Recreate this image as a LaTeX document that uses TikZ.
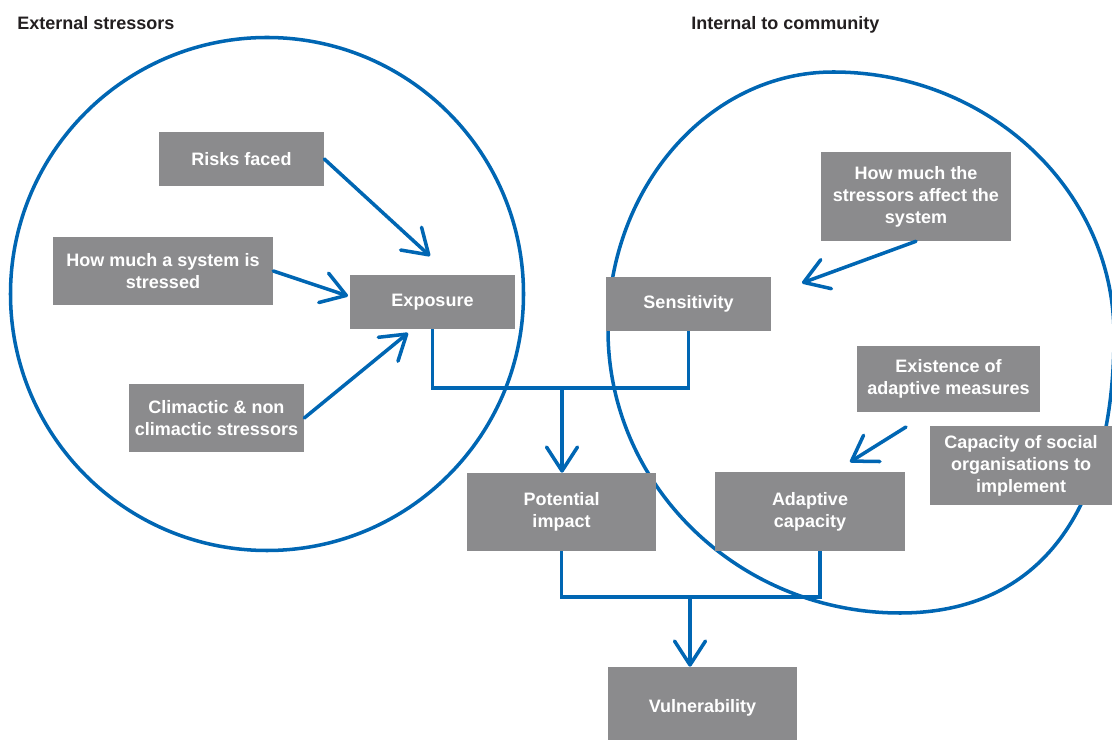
\documentclass[tikz,border=0pt]{standalone}
\usepackage{fontspec}
\setmainfont{Liberation Sans}
\usetikzlibrary{arrows.meta,calc}
\definecolor{cblue}{RGB}{0,102,179}
\definecolor{cgray}{RGB}{139,139,141}
\definecolor{ctitle}{RGB}{35,31,32}
\tikzset{
  bx/.style 2 args={fill=cgray, draw=none, inner sep=0pt, text=white,
    font=\fontsize{12.8pt}{15.6pt}\selectfont\bfseries, align=center,
    minimum width=#1*0.025cm, minimum height=#2*0.025cm},
  ttl/.style={text=ctitle, font=\fontsize{12.8pt}{15.6pt}\selectfont\bfseries, anchor=base west, inner sep=0pt},
  ring/.style={draw=cblue, line width=2.5pt},
  link/.style={draw=cblue, line width=2.5pt, line join=miter},
  arr/.style={draw=cblue, line width=2.5pt, line cap=round,
    -{Straight Barb[length=17pt, width=22pt, round]}}
}
\begin{document}
\begin{tikzpicture}[x=0.025cm, y=-0.025cm]
\useasboundingbox (0,0) rectangle (1112,740);
\clip (0,0) rectangle (1112,740);

% titles
\node[ttl] (t1) at (17,30) {External stressors};
\node[ttl] (t2) at (691,30) {Internal to community};

% circles
\draw[ring] (267,294) circle [radius=256.5];
\draw[ring] (833,72) .. controls (988,72) and (1114,190) .. (1114,335)
  .. controls (1114,510) and (1040,613) .. (900,613)
  .. controls (739,613) and (608,486) .. (608,330)
  .. controls (608,187.5) and (709,72) .. (833,72) -- cycle;

% boxes
\node[bx={165}{54}] (risk) at (241.5,159) {Risks faced};
\node[bx={220}{68}] (stress) at (163,271) {How much a system is\\stressed};
\node[bx={165}{54}] (expo) at (432.5,302) {Exposure};
\node[bx={175}{68}] (clim) at (216.5,418) {Climactic \& non\\climactic stressors};
\node[bx={165}{54}] (sens) at (688.5,304) {Sensitivity};
\node[bx={190}{89}] (howsys) at (916,196.5) {How much the\\stressors affect the\\system};
\node[bx={183}{66}] (exist) at (948.5,379) {Existence of\\adaptive measures};
\node[bx={182}{79}] (capac) at (1021,465.5) {Capacity of social\\organisations to\\implement};
\node[bx={189}{78}] (pot) at (561.5,512) {Potential\\impact};
\node[bx={190}{79}] (adap) at (810,511.5) {Adaptive\\capacity};
\node[bx={189}{82}] (vuln) at (702.5,708) {Vulnerability};

% arrow end points
\coordinate (a1) at (430,256);
\coordinate (a2) at (348,296);
\coordinate (a3) at (408,333);
\coordinate (a4) at (802,283);
\coordinate (s5) at (906,427);
\coordinate (a5) at (850,462);
\coordinate (j1) at (562,388);
\coordinate (j2) at (690,597);

% arrows into exposure / sensitivity / adaptive capacity
\draw[arr] (risk.east) -- (a1);
\draw[arr] (stress.east) -- (a2);
\draw[arr] (clim.east) -- (a3);
\draw[arr] (howsys.south) -- (a4);
\draw[arr] (s5) -- (a5);

% bracket connectors
\draw[link] (expo.south) -- (expo.south |- j1) -- (sens.south |- j1) -- (sens.south);
\draw[arr] (j1) -- (j1 |- pot.north);
\draw[link] (pot.south) -- (pot.south |- j2) -- ($(adap.south |- j2)+(10,0)$) -- ($(adap.south)+(10,0)$);
\draw[arr] (j2) -- (j2 |- vuln.north);
\end{tikzpicture}
\end{document}
